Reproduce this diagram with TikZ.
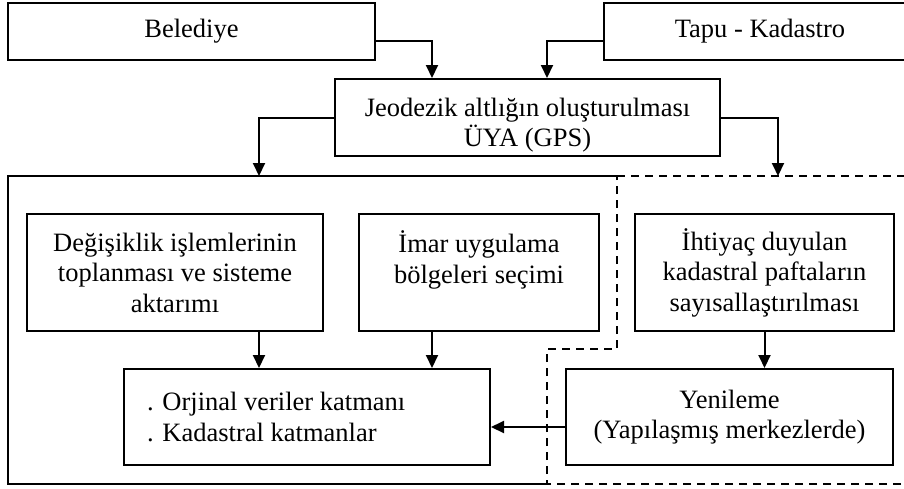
\documentclass[tikz,border=0pt]{standalone}
\usepackage{fontspec}
\setmainfont{Liberation Serif}
\usetikzlibrary{arrows.meta}

\begin{document}
\begin{tikzpicture}[x=1pt, y=-1pt, line width=2pt,
    box/.style = {draw, align=center, inner sep=0pt,
                  font=\fontsize{26.5}{30.5}\selectfont},
    arr/.style = {-{Triangle[length=13pt,width=12pt]}}]
    \useasboundingbox (0,0) rectangle (904,488);
    \clip (0,0) rectangle (904,488);

    \node[box, minimum width=367pt, minimum height=57pt] (Bel) at (191.5, 31.5) {Belediye};
    \node[box, minimum width=312pt, minimum height=57pt] (Tapu) at (760, 31.5) {Tapu - Kadastro};
    \node[box, minimum width=385pt, minimum height=77pt, text height=64pt] (Jeo) at (527.5, 117.5)
        {Jeodezik altlığın oluşturulması\\ÜYA (GPS)};

    \node[box, minimum width=296pt, minimum height=117pt] (Deg) at (175, 272.5)
        {Değişiklik işlemlerinin\\toplanması ve sisteme\\aktarımı};
    \node[box, minimum width=240pt, minimum height=117pt] (Imar) at (479, 272.5)
        {İmar uygulama\\bölgeleri seçimi\\~};
    \node[box, minimum width=259pt, minimum height=117pt] (Iht) at (764.5, 272.5)
        {İhtiyaç duyulan\\kadastral paftaların\\sayısallaştırılması};
    \node[box, align=flush left, text width=320pt, inner xsep=23pt, minimum height=96pt] (Orj) at (307, 417)
        {. Orjinal veriler katmanı\\. Kadastral katmanlar};
    \node[box, minimum width=327pt, minimum height=96pt] (Yen) at (729.5, 417)
        {Yenileme\\(Yapılaşmış merkezlerde)};

    % frames
    \coordinate (Fl) at (259, 176);
    \coordinate (Fr) at (778, 176);
    \draw (617, 176) -- (8, 176) -- (8, 484) -- (547, 484);
    \draw[dash pattern=on 8pt off 6pt] (617, 176) -- (906, 176) -- (906, 484)
        -- (547, 484) -- (547, 349) -- (617, 349) -- cycle;

    \draw[arr] ([yshift=-9.5pt]Bel.east) -| ([xshift=-95.5pt]Jeo.north);
    \draw[arr] ([yshift=-9.5pt]Tapu.west) -| ([xshift=19.5pt]Jeo.north);
    \draw[arr] (Jeo.west) -| (Fl);
    \draw[arr] (Jeo.east) -| (Fr);

    \draw[arr] (Deg.south -| Fl) -- (Orj.north -| Fl);
    \draw[arr] ([xshift=-47pt]Imar.south) -- ([xshift=-47pt]Imar.south |- Orj.north);
    \draw[arr] (Iht.south) -- (Iht.south |- Yen.north);
    \draw[arr] ([yshift=-10pt]Yen.west) -- ([yshift=-10pt]Yen.west -| Orj.east);
\end{tikzpicture}
\end{document}
